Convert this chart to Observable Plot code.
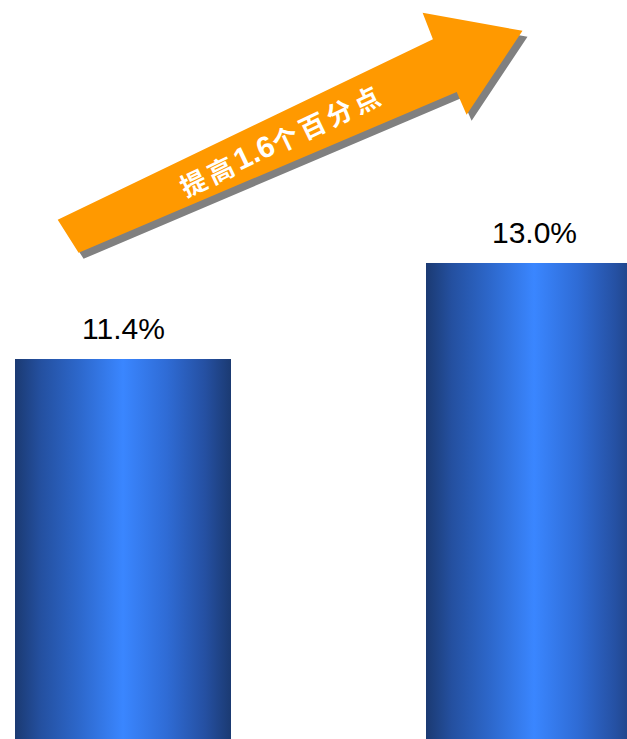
<!DOCTYPE html>
<html><head><meta charset="utf-8">
<script src="https://cdn.jsdelivr.net/npm/d3@7"></script>
<script src="https://cdn.jsdelivr.net/npm/@observablehq/plot@0.6"></script>
<style>html,body{margin:0;padding:0;background:#fff;overflow:hidden;}#chart svg{display:block;}</style>
</head><body><div id="chart"></div>
<script>
const categories = ["前期", "本期"];
const values = [11.4, 13.0];
const valueLabels = ["11.4%", "13.0%"];
const arrowTextParts = ["提高", "1.6", "个百分点"];
// arrow outline: t = position between bar centres (0 = first bar, 1 = second), v = value units
const arrowT = [-0.159, 0.754, 0.729, 0.972, 0.836, 0.812, -0.108];
const arrowV = [13.72, 16.73, 17.17, 16.87, 15.47, 15.85, 13.17];
const arrowTextPos = {t: 0.384, v: 15.07};

const data = categories.map((c, i) => ({cat: c, value: values[i], label: valueLabels[i]}));

function arrowMark(index, scales, values_, dimensions, context) {
  const svgns = "http://www.w3.org/2000/svg";
  const bw = scales.x.bandwidth ? scales.x.bandwidth() : 0;
  const c0 = scales.x(categories[0]) + bw / 2;
  const c1 = scales.x(categories[1]) + bw / 2;
  const px = t => c0 + t * (c1 - c0);
  const g = context.document.createElementNS(svgns, "g");
  const defs = context.document.createElementNS(svgns, "defs");
  defs.innerHTML = `<linearGradient id="barGrad" x1="0" y1="0" x2="1" y2="0">
    <stop offset="0" stop-color="#1b3a72"/>
    <stop offset="0.12" stop-color="#2450a0"/>
    <stop offset="0.3" stop-color="#2d68cc"/>
    <stop offset="0.5" stop-color="#3a86ff"/>
    <stop offset="0.7" stop-color="#2f6cd6"/>
    <stop offset="0.88" stop-color="#2550a2"/>
    <stop offset="1" stop-color="#1b3a72"/>
  </linearGradient>`;
  g.appendChild(defs);
  const pts = arrowT.map((t, i) => [px(t), scales.y(arrowV[i])]);
  const d = "M" + pts.map(p => p[0].toFixed(1) + "," + p[1].toFixed(1)).join("L") + "Z";
  const shadow = context.document.createElementNS(svgns, "path");
  shadow.setAttribute("d", d);
  shadow.setAttribute("fill", "#808080");
  shadow.setAttribute("transform", "translate(5,6)");
  g.appendChild(shadow);
  const arrow = context.document.createElementNS(svgns, "path");
  arrow.setAttribute("d", d);
  arrow.setAttribute("fill", "#ff9900");
  g.appendChild(arrow);
  const ang = Math.atan2(pts[1][1] - pts[0][1], pts[1][0] - pts[0][0]) * 180 / Math.PI;
  const tx = px(arrowTextPos.t), ty = scales.y(arrowTextPos.v);
  const text = context.document.createElementNS(svgns, "text");
  text.setAttribute("transform", `translate(${tx},${ty}) rotate(${ang})`);
  text.setAttribute("text-anchor", "middle");
  text.setAttribute("dominant-baseline", "central");
  text.setAttribute("fill", "#ffffff");
  text.setAttribute("font-size", "26");
  text.setAttribute("font-weight", "bold");
  text.setAttribute("font-family", "'Noto Sans CJK SC', sans-serif");
  arrowTextParts.forEach((part, i) => {
    const ts = context.document.createElementNS(svgns, "tspan");
    const isNum = i === 1;
    ts.setAttribute("letter-spacing", isNum ? "0" : "4");
    if (isNum) {
      ts.setAttribute("font-size", "30");
      ts.setAttribute("font-family", "'Liberation Sans', Arial, sans-serif");
    }
    ts.textContent = part;
    text.appendChild(ts);
  });
  g.appendChild(text);
  return g;
}

const chart = Plot.plot({
  width: 627,
  height: 739,
  margin: 0,
  style: {background: "#fff", overflow: "hidden"},
  x: {type: "band", domain: categories, range: [14, 643], paddingInner: 0.4733, paddingOuter: 0, axis: null},
  y: {domain: [5.067, 17.383], range: [739, 0], axis: null},
  marks: [
    Plot.barY(data, {x: "cat", y1: 5.067, y2: "value", fill: "url(#barGrad)", insetLeft: 0, insetRight: 0}),
    Plot.text(data, {x: "cat", y: "value", text: "label", dy: -30, fontSize: 30, fill: "#000",
      fontFamily: "'Liberation Sans', Arial, sans-serif", lineAnchor: "middle"}),
    arrowMark
  ]
});
document.getElementById("chart").appendChild(chart);
</script></body></html>
